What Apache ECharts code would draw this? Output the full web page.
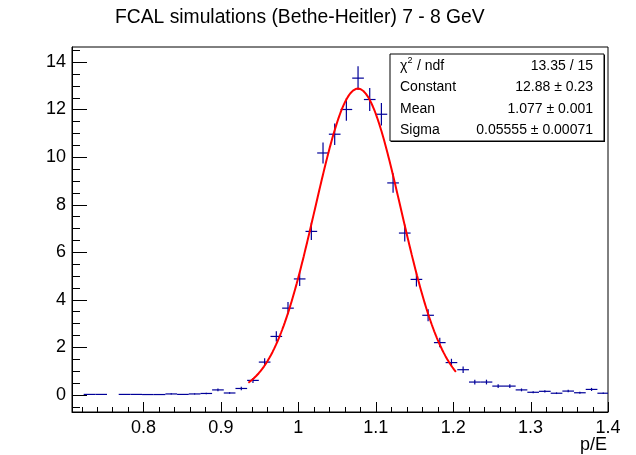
<!DOCTYPE html>
<html>
<head>
<meta charset="utf-8">
<script src="https://cdn.jsdelivr.net/npm/echarts@6/dist/echarts.min.js"></script>
<style>
  html, body { margin: 0; padding: 0; background: #fff; }
  #chart { width: 636px; height: 455px; }
</style>
</head>
<body>
<div id="chart"></div>
<script>
// p/E histogram: equal-width bins starting at binLow
const binLow = 0.7077;
const binWidth = 0.01508;
const binCounts = [
  0, 0.01, 0.01, 0, 0.01, 0.01, 0.005, 0.005, 0.03, 0.01,
  0.03, 0.05, 0.20, 0.07, 0.26, 0.60, 1.37, 2.45, 3.64, 4.87,
  6.87, 10.17, 10.96, 12.00, 13.32, 12.42, 11.80, 8.91, 6.80, 4.85,
  3.34, 2.19, 1.35, 1.05, 0.53, 0.53, 0.36, 0.36, 0.20, 0.10,
  0.14, 0.06, 0.15, 0.08, 0.22, 0.06
];
const binErrors = [
  0, 0.014, 0.014, 0, 0.014, 0.014, 0.01, 0.01, 0.024, 0.014,
  0.024, 0.03, 0.06, 0.036, 0.07, 0.106, 0.16, 0.215, 0.26, 0.30,
  0.36, 0.44, 0.45, 0.475, 0.50, 0.48, 0.47, 0.41, 0.36, 0.30,
  0.25, 0.20, 0.16, 0.14, 0.10, 0.10, 0.08, 0.08, 0.06, 0.045,
  0.05, 0.034, 0.053, 0.04, 0.064, 0.034
];

// Gaussian fit result and the range it was fitted over
const fitConstant = 12.88;
const fitMean = 1.077;
const fitSigma = 0.05555;
const fitRange = [0.9355, 1.2035];

// Fit statistics box
const statsNames = ['Constant', 'Mean', 'Sigma'];
const statsValues = ['13.35 / 15', '12.88 \u00b1 0.23', '1.077 \u00b1 0.001', '0.05555 \u00b1 0.00071'];

// Axes
const xRange = [0.7077, 1.4];
const yRange = [-0.73, 14.63];
const xMajorTicks = [0.8, 0.9, 1.0, 1.1, 1.2, 1.3, 1.4];
const xTickLabels = ['0.8', '0.9', '1', '1.1', '1.2', '1.3', '1.4'];
const yMajorTicks = [0, 2, 4, 6, 8, 10, 12, 14];
const yTickLabels = ['0', '2', '4', '6', '8', '10', '12', '14'];

const FONT = "'Liberation Sans', Arial, Helvetica, sans-serif";
const HIST_COLOR = '#000099';

function minorTicks(lo, hi, step, majors) {
  const out = [];
  const n = Math.round((hi - lo) / step);
  for (let i = 0; i <= n; i++) {
    const v = Math.round((lo + i * step) * 1000) / 1000;
    if (!majors.some(m => Math.abs(m - v) < 1e-6)) out.push(v);
  }
  return out;
}
const xMinorTicks = minorTicks(0.72, 1.40, 0.02, xMajorTicks);
const yMinorTicks = minorTicks(-0.5, 14.5, 0.5, yMajorTicks);

function labelFor(ticks, labels) {
  return v => {
    const i = ticks.findIndex(t => Math.abs(t - v) < 1e-6);
    return i >= 0 ? labels[i] : '';
  };
}

// Tick marks drawn inward from the bottom and left edges: [axis (0 = x, 1 = y), value, length px]
const tickData = []
  .concat(xMajorTicks.map(v => [0, v, 10]))
  .concat(xMinorTicks.map(v => [0, v, 5]))
  .concat(yMajorTicks.map(v => [1, v, 15]))
  .concat(yMinorTicks.map(v => [1, v, 8]));

// Histogram points: [bin centre, content, error]; empty bins are not drawn
const histData = binCounts
  .map((c, i) => [binLow + (i + 0.5) * binWidth, c, binErrors[i]])
  .filter(d => d[1] > 0);

// Fitted Gaussian evaluated over the fit range
const fitCurve = [];
const nSamples = 240;
for (let i = 0; i <= nSamples; i++) {
  const x = fitRange[0] + (fitRange[1] - fitRange[0]) * i / nSamples;
  const z = (x - fitMean) / fitSigma;
  fitCurve.push([x, fitConstant * Math.exp(-0.5 * z * z)]);
}

const chart = echarts.init(document.getElementById('chart'), null, { renderer: 'canvas' });

const axisLine = { color: '#000', width: 1 };

// Stats box geometry
const box = { x: 390, y: 54, w: 214, h: 87 };
const rowY = [66, 87.5, 109, 130.5];
const statsGraphics = [
  { type: 'rect', shape: { x: box.x + 1, y: box.y + 1, width: box.w, height: box.h }, style: { fill: '#000' }, z: 100 },
  { type: 'rect', shape: { x: box.x, y: box.y, width: box.w, height: box.h }, style: { fill: '#fff', stroke: '#000', lineWidth: 1 }, z: 101 },
  { type: 'text', x: 400, y: rowY[0], style: { text: '\u03c7', font: '14px ' + FONT, fill: '#000', verticalAlign: 'middle' }, z: 102 },
  { type: 'text', x: 407.5, y: rowY[0] - 5, style: { text: '2', font: '9px ' + FONT, fill: '#000', verticalAlign: 'middle' }, z: 102 },
  { type: 'text', x: 413, y: rowY[0], style: { text: ' / ndf', font: '14px ' + FONT, fill: '#000', verticalAlign: 'middle' }, z: 102 }
];
statsNames.forEach((name, i) => {
  statsGraphics.push({ type: 'text', x: 400, y: rowY[i + 1], style: { text: name, font: '14px ' + FONT, fill: '#000', verticalAlign: 'middle' }, z: 102 });
});
statsValues.forEach((val, i) => {
  statsGraphics.push({ type: 'text', x: 593, y: rowY[i], style: { text: val, font: '14px ' + FONT, fill: '#000', align: 'right', verticalAlign: 'middle' }, z: 102 });
});

const option = {
  backgroundColor: '#fff',
  animation: false,
  title: {
    text: 'FCAL simulations (Bethe-Heitler) 7 - 8 GeV',
    left: 115,
    top: 8,
    padding: 0,
    textStyle: { fontFamily: FONT, fontSize: 19.3, fontWeight: 'normal', color: '#000' }
  },
  grid: {
    left: 72, top: 47, width: 536, height: 365,
    show: true, borderColor: '#000', borderWidth: 1, backgroundColor: 'transparent',
    outerBoundsMode: 'none'
  },
  xAxis: {
    type: 'value', min: xRange[0], max: xRange[1], position: 'bottom',
    axisLine: { show: true, onZero: false, lineStyle: axisLine },
    axisTick: { show: false },
    axisLabel: { show: true, customValues: xMajorTicks, formatter: labelFor(xMajorTicks, xTickLabels),
      margin: 7, fontSize: 18, fontFamily: FONT, color: '#000' },
    splitLine: { show: false }
  },
  yAxis: {
    type: 'value', min: yRange[0], max: yRange[1], position: 'left',
    axisLine: { show: true, onZero: false, lineStyle: axisLine },
    axisTick: { show: false },
    axisLabel: { show: true, customValues: yMajorTicks, formatter: labelFor(yMajorTicks, yTickLabels),
      margin: 6, fontSize: 18, fontFamily: FONT, color: '#000' },
    splitLine: { show: false }
  },
  series: [
    {
      name: 'ticks',
      type: 'custom',
      clip: false,
      silent: true,
      data: tickData,
      encode: { x: 1, y: 1 },
      renderItem: function (params, api) {
        const isY = api.value(0) === 1, v = api.value(1), len = api.value(2);
        if (!isY) {
          const p = api.coord([v, yRange[0]]);
          const x = Math.round(p[0]) + 0.5;
          return { type: 'line', shape: { x1: x, y1: p[1], x2: x, y2: p[1] - len }, style: { stroke: '#000', lineWidth: 1 } };
        }
        const p = api.coord([xRange[0], v]);
        const y = Math.round(p[1]) + 0.5;
        return { type: 'line', shape: { x1: p[0], y1: y, x2: p[0] + len, y2: y }, style: { stroke: '#000', lineWidth: 1 } };
      },
      z: 1
    },
    {
      name: 'p/E',
      type: 'custom',
      clip: true,
      data: histData,
      renderItem: function (params, api) {
        const c = api.value(0), v = api.value(1), e = api.value(2);
        const l = api.coord([c - binWidth / 2, v]);
        const r = api.coord([c + binWidth / 2, v]);
        const t = api.coord([c, v + e]);
        const b = api.coord([c, v - e]);
        return {
          type: 'group',
          children: [
            { type: 'line', shape: { x1: l[0], y1: l[1], x2: r[0], y2: r[1] }, style: { stroke: HIST_COLOR, lineWidth: 1.2 } },
            { type: 'line', shape: { x1: t[0], y1: t[1], x2: b[0], y2: b[1] }, style: { stroke: HIST_COLOR, lineWidth: 1.2 } }
          ]
        };
      },
      z: 2
    },
    {
      name: 'gaus',
      type: 'line',
      data: fitCurve,
      showSymbol: false,
      symbol: 'none',
      lineStyle: { color: '#ff0000', width: 2 },
      z: 3
    }
  ],
  graphic: [
    { type: 'text', x: 607, y: 445, style: { text: 'p/E', font: '18px ' + FONT, fill: '#000', align: 'right', verticalAlign: 'middle' } }
  ].concat(statsGraphics)
};

chart.setOption(option);
</script>
</body>
</html>
